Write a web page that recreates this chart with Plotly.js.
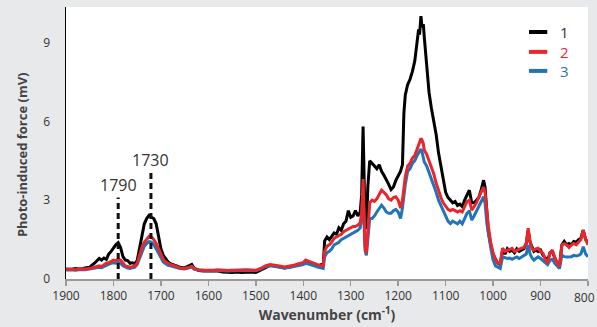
<!DOCTYPE html>
<html>
<head>
<meta charset="utf-8">
<script src="https://cdn.plot.ly/plotly-3.0.1.min.js"></script>
<style>html,body{margin:0;padding:0;background:#e8e9eb;}#chart{width:597px;height:327px;}</style>
</head>
<body>
<div id="chart"></div>
<script>
// Wavenumber (cm-1)
const wavenumber = [
 1900,1890,1880,1870,1860,1850,1840,1830,1825,1820,1815,1810,1805,1800,1795,1790,1785,1780,1775,1770,1765,1760,1755,1750,1745,1740,1735,1730,1725,1720,1715,1710,1705,1700,1695,1690,1685,1680,1670,1660,1650,
 1640,1635,1630,1620,1610,1600,1590,1580,1570,1560,1550,1540,1530,1520,1510,1500,1490,1480,1470,1460,1450,1440,1430,1420,1410,1400,1395,1390,1380,1370,1362,1358,
 1355,1350,1345,1340,1335,1330,1325,1320,1315,1310,1305,1300,1295,1290,1285,1280,1277,1274,1272,1270,1267,1264,1260,
 1255,1250,1245,1240,1235,1230,1225,1220,1215,1210,1205,1200,1195,1191,
 1188,1185,1180,1175,1170,1165,1160,1157,1155,1152,1150,1147,1145,1140,1135,1130,1125,1120,1115,1110,1105,1100,1095,1090,1085,1080,1075,1070,1065,1060,1055,1050,1045,1040,1035,1030,1025,1020,1017,1013,1010,1005,1000,995,990,985,
 980,975,970,965,960,955,950,945,940,935,930,926,922,918,914,910,905,900,895,890,885,880,875,870,865,860,855,850,845,840,835,830,825,820,815,810,805,800
];
// Series 1 (black), mV
const series1 = [
 0.38,0.36,0.40,0.37,0.42,0.45,0.60,0.78,0.72,0.80,0.75,0.95,1.05,1.20,1.30,1.38,1.20,0.85,0.72,0.70,0.60,0.62,0.58,0.70,1.20,1.75,2.10,2.30,2.42,2.35,2.30,2.10,1.55,1.15,0.90,0.75,0.65,0.58,0.50,0.45,0.42,
 0.50,0.55,0.40,0.32,0.30,0.30,0.28,0.30,0.27,0.25,0.25,0.27,0.25,0.26,0.27,0.25,0.35,0.45,0.52,0.50,0.45,0.42,0.45,0.50,0.55,0.60,0.68,0.62,0.55,0.50,0.55,0.50,
 1.45,1.60,1.50,1.65,1.75,1.70,1.95,1.85,2.10,2.20,2.60,2.35,2.40,2.60,2.40,2.55,3.20,5.80,4.20,2.30,1.90,3.50,4.50,
 4.40,4.30,4.20,4.35,4.10,3.95,3.80,3.60,3.40,3.50,3.75,3.95,4.10,4.35,
 6.30,7.00,7.40,7.60,7.90,8.30,9.00,9.50,9.30,10.00,9.60,9.70,9.20,8.00,7.10,6.50,6.00,5.50,4.80,4.30,3.90,3.30,3.10,3.00,2.90,2.95,2.80,2.85,2.75,3.00,3.20,3.38,2.90,2.90,3.00,3.10,3.40,3.76,3.50,2.50,1.80,1.30,0.95,0.75,0.60,0.55,
 1.10,0.95,1.15,1.05,1.10,1.00,1.15,1.05,1.10,1.15,1.36,1.86,1.40,1.20,1.05,1.10,1.05,1.10,0.91,0.80,0.72,1.00,1.04,0.80,0.60,0.53,1.30,1.43,1.30,1.35,1.30,1.43,1.40,1.50,1.55,1.86,1.50,1.40
];
// Series 2 (red), mV
const series2 = [
 0.36,0.38,0.35,0.40,0.38,0.40,0.45,0.50,0.48,0.55,0.60,0.62,0.68,0.72,0.70,0.75,0.72,0.60,0.50,0.48,0.45,0.47,0.50,0.60,0.90,1.20,1.40,1.52,1.62,1.60,1.50,1.35,1.15,0.90,0.75,0.65,0.60,0.55,0.50,0.42,0.40,
 0.45,0.48,0.40,0.35,0.34,0.33,0.33,0.35,0.33,0.32,0.33,0.34,0.33,0.35,0.34,0.33,0.40,0.50,0.55,0.53,0.50,0.46,0.48,0.52,0.58,0.62,0.72,0.68,0.60,0.55,0.50,0.50,
 1.05,1.25,1.30,1.40,1.55,1.60,1.65,1.70,1.80,1.85,1.90,1.95,2.00,2.00,2.05,2.15,2.50,3.80,2.50,1.30,0.98,1.90,2.90,
 3.00,2.95,3.05,3.20,3.38,3.30,3.20,3.05,3.00,3.10,3.13,3.00,2.70,3.00,
 3.50,3.90,4.30,4.40,4.60,4.70,4.95,5.10,5.25,5.35,5.30,5.15,4.90,4.75,4.50,4.25,4.00,3.65,3.35,3.10,2.90,2.75,2.65,2.60,2.65,2.60,2.55,2.60,2.55,2.75,2.95,3.00,2.62,2.75,2.90,3.13,3.30,3.50,3.30,2.40,2.00,1.40,0.98,0.75,0.60,0.60,
 1.17,1.05,1.10,1.15,1.17,1.05,1.10,1.15,1.17,1.20,1.36,1.93,1.40,1.15,1.10,1.15,1.17,1.05,0.98,0.75,0.60,1.00,1.10,0.80,0.60,0.48,1.29,1.35,1.30,1.20,1.30,1.35,1.30,1.40,1.50,1.86,1.50,1.30
];
// Series 3 (blue), mV
const series3 = [
 0.34,0.35,0.33,0.36,0.35,0.38,0.40,0.45,0.43,0.48,0.52,0.55,0.60,0.62,0.60,0.63,0.60,0.50,0.45,0.42,0.40,0.44,0.45,0.55,0.80,1.05,1.25,1.35,1.42,1.40,1.30,1.15,1.00,0.80,0.65,0.58,0.52,0.50,0.45,0.40,0.38,
 0.42,0.45,0.38,0.33,0.32,0.32,0.31,0.33,0.31,0.30,0.31,0.32,0.31,0.33,0.32,0.31,0.38,0.47,0.50,0.48,0.46,0.42,0.44,0.47,0.52,0.55,0.60,0.58,0.52,0.45,0.42,0.40,
 0.85,1.00,1.05,1.15,1.30,1.35,1.40,1.50,1.55,1.60,1.65,1.70,1.75,1.78,1.85,1.95,2.30,3.40,2.20,1.10,0.90,1.60,2.30,
 2.30,2.40,2.55,2.70,2.81,2.70,2.55,2.50,2.50,2.60,2.65,2.55,2.30,2.70,
 3.20,3.60,4.10,4.20,4.40,4.50,4.70,4.80,4.90,4.95,4.85,4.60,4.45,4.30,4.05,3.85,3.60,3.30,3.00,2.80,2.55,2.36,2.20,2.11,2.20,2.15,2.10,2.20,2.10,2.30,2.50,2.60,2.24,2.40,2.60,2.75,2.95,3.13,2.90,2.10,1.70,1.20,0.72,0.50,0.45,0.40,
 0.84,0.80,0.78,0.80,0.75,0.80,0.84,0.78,0.84,0.90,0.95,1.29,0.95,0.80,0.72,0.78,0.84,0.78,0.70,0.60,0.55,0.72,0.75,0.60,0.50,0.40,0.91,0.85,0.84,0.84,0.85,0.90,0.88,0.90,0.95,1.23,0.95,0.85
];
const seriesNames = ['1','2','3'];
const seriesColors = ['#000000','#e8262b','#1f74ba'];
const labelColors = ['#333333','#e8262b','#1f74ba'];
const xTicks = [1900,1800,1700,1600,1500,1400,1300,1200,1100,1000,900,800];
const yTicks = [0,3,6,9];
// Marked bands: label, position, height of marker
const bandLabels = ['1790','1730'];
const bandPos = [1790,1721];
const bandTop = [3.1,4.07];
const bandLabelY = [3.57,4.52];

const allY = [series1, series2, series3];
const traces = allY.map((ys,i)=>({
  x: wavenumber, y: ys, type:'scatter', mode:'lines', name: seriesNames[i],
  line:{color:seriesColors[i], width:3}, showlegend:false
}));
const order = [traces[0], traces[2], traces[1]];

const FONT = 'Open Sans, sans-serif';
const shapes = [];
const annotations = [];
bandPos.forEach((p,i)=>{
  shapes.push({type:'line', xref:'x', yref:'y', x0:p, x1:p, y0:0, y1:bandTop[i],
    line:{color:'#111', width:3, dash:'6px,4px'}});
  annotations.push({xref:'x', yref:'y', x:p, y:bandLabelY[i], text:bandLabels[i], showarrow:false,
    font:{size:16, color:'#333', family:FONT}, xanchor:'center', yanchor:'middle'});
});
// legend (manual)
const legY = [0.908, 0.835, 0.765];
seriesNames.forEach((n,i)=>{
  shapes.push({type:'line', xref:'paper', yref:'paper', x0:0.887, x1:0.922, y0:legY[i], y1:legY[i],
    line:{color:seriesColors[i], width:4}});
  annotations.push({xref:'paper', yref:'paper', x:0.942, y:legY[i], text:n, showarrow:false,
    xanchor:'left', yanchor:'middle', font:{size:15, color:labelColors[i], family:FONT}});
});
// y-axis title as annotation (positioned like the reference)
annotations.push({xref:'paper', yref:'paper', x:-0.084, y:0.456, text:'<b>Photo-induced force (mV)</b>',
  textangle:-90, showarrow:false, xanchor:'center', yanchor:'middle',
  font:{size:13, color:'#444', family:FONT}});
// last x tick label, kept inside the page edge
const lastTick = xTicks[xTicks.length-1];
annotations.push({xref:'x', yref:'paper', x:lastTick, y:0, yanchor:'top', xanchor:'right', xshift:9, yshift:-8,
  text:String(lastTick), showarrow:false, font:{size:12, color:'#333', family:FONT}});

const layout = {
  width:597, height:327,
  margin:{l:66, r:9, t:7, b:48},
  paper_bgcolor:'#e8e9eb', plot_bgcolor:'#ffffff',
  font:{family:FONT, size:12, color:'#333'},
  xaxis:{
    range:[1900,800], tickvals:xTicks, ticktext:xTicks.map(v => v===lastTick ? '' : String(v)),
    showgrid:false, zeroline:false, showline:true, linecolor:'#999', linewidth:2,
    ticks:'outside', ticklen:5, tickwidth:1.5, tickcolor:'#999',
    tickfont:{size:12, color:'#333'},
    title:{text:'<b>Wavenumber (cm<sup>-1</sup>)</b>', font:{size:14, color:'#444'}, standoff:6}
  },
  yaxis:{
    range:[0,10.35], tickvals:yTicks, ticktext:yTicks.map(String),
    showgrid:false, zeroline:false, showline:true, linecolor:'#000', linewidth:1.5,
    ticks:'outside', ticklen:12, tickcolor:'rgba(0,0,0,0)',
    tickfont:{size:12, color:'#333'}
  },
  shapes: shapes,
  annotations: annotations
};
Plotly.newPlot('chart', order, layout, {staticPlot:true, displayModeBar:false});
</script>
</body>
</html>
